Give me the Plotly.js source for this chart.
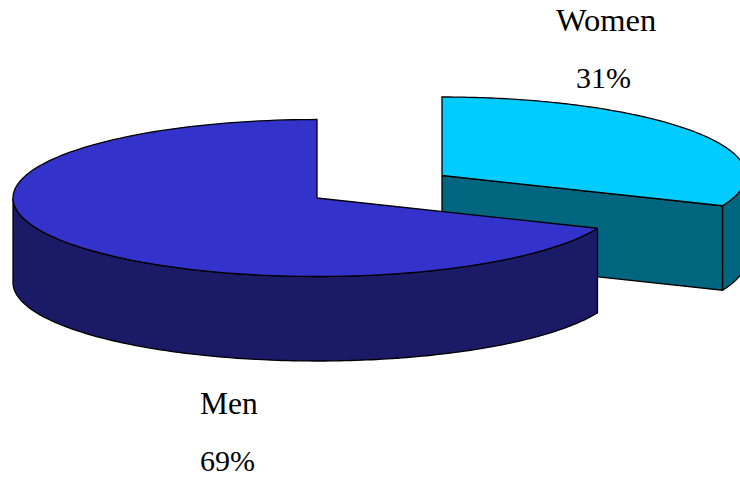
<!DOCTYPE html>
<html>
<head>
<meta charset="utf-8">
<script src="https://cdn.plot.ly/plotly-3.0.1.min.js"></script>
<style>html,body{margin:0;padding:0;background:#fff;overflow:hidden}</style>
</head>
<body>
<div id="chart" style="width:740px;height:477px"></div>
<script>
// Data
var categories = ['Men', 'Women'];
var shares = [68.7, 31.3];

// Styles
var topColors = ['#3333CC', '#00CCFF'];
var sideColors = ['#1A1A66', '#006680'];
var edge = {color: '#000000', width: 1.3};
var nameSizes = [31.5, 32.5];
var pctSize = 30;

// Geometry of the tilted pie (pixel-like plot units)
var rx = 304, ry = 78.5, depth = 84.5;
var centers = [{x: 317, y: 198}, {x: 442, y: 175.5}];
var namePos = [{x: 229, y: 403.5}, {x: 605.5, y: 20}];
var pctPos = [{x: 227.5, y: 460}, {x: 603.5, y: 77.5}];

var womenDeg = shares[1] / (shares[0] + shares[1]) * 360;

function pt(c, deg, drop) {
  var a = deg * Math.PI / 180;
  return [c.x + rx * Math.sin(a), c.y - ry * Math.cos(a) + (drop || 0)];
}
function arc(c, from, to, drop) {
  var pts = [], n = 160;
  for (var i = 0; i <= n; i++) pts.push(pt(c, from + (to - from) * i / n, drop));
  return pts;
}
function poly(pts, fill, name) {
  var closed = pts.concat([pts[0]]);
  return {
    type: 'scatter', mode: 'lines', fill: 'toself', fillcolor: fill,
    x: closed.map(function (p) { return p[0]; }),
    y: closed.map(function (p) { return p[1]; }),
    line: {color: edge.color, width: edge.width, simplify: false},
    name: name, hoverinfo: 'name', showlegend: false
  };
}

var m = centers[0], w = centers[1];
var traces = [
  // Women: outer wall, cut face, top
  poly(arc(w, womenDeg, 90, 0).concat(arc(w, 90, womenDeg, depth)), sideColors[1], categories[1]),
  poly([[w.x, w.y], pt(w, womenDeg), pt(w, womenDeg, depth), [w.x, w.y + depth]], sideColors[1], categories[1]),
  poly([[w.x, w.y]].concat(arc(w, 0, womenDeg)), topColors[1], categories[1]),
  // Men: outer wall, top
  poly(arc(m, womenDeg, 270, 0).concat(arc(m, 270, womenDeg, depth)), sideColors[0], categories[0]),
  poly([[m.x, m.y]].concat(arc(m, womenDeg, 360)), topColors[0], categories[0])
];

var family = '"Liberation Serif","Times New Roman",serif';
var annotations = [];
categories.forEach(function (name, i) {
  annotations.push({x: namePos[i].x, y: namePos[i].y, xref: 'x', yref: 'y', text: name,
    showarrow: false, font: {family: family, size: nameSizes[i], color: '#000'},
    xanchor: 'center', yanchor: 'middle'});
  annotations.push({x: pctPos[i].x, y: pctPos[i].y, xref: 'x', yref: 'y',
    text: Math.round(shares[i]) + '%',
    showarrow: false, font: {family: family, size: pctSize, color: '#000'},
    xanchor: 'center', yanchor: 'middle'});
});

Plotly.newPlot('chart', traces, {
  width: 740, height: 477,
  margin: {l: 0, r: 0, t: 0, b: 0, pad: 0},
  paper_bgcolor: '#ffffff', plot_bgcolor: '#ffffff',
  xaxis: {range: [0, 740], visible: false, fixedrange: true},
  yaxis: {range: [477, 0], visible: false, fixedrange: true},
  annotations: annotations,
  showlegend: false
}, {displayModeBar: false, staticPlot: true});
</script>
</body>
</html>
